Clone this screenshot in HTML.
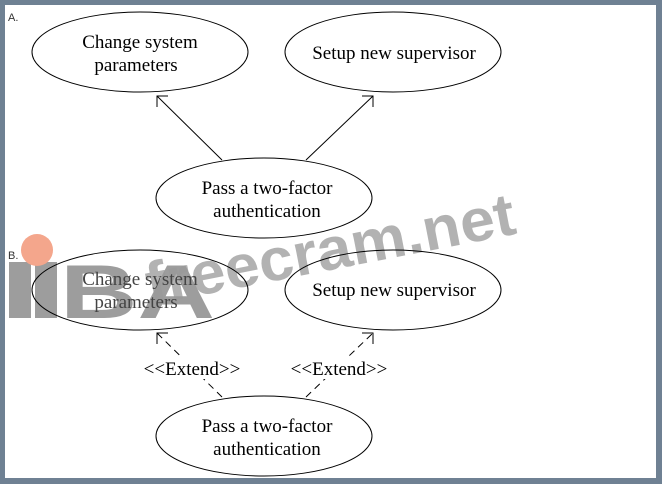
<!DOCTYPE html>
<html><head><meta charset="utf-8"><style>
html,body{margin:0;padding:0;background:#6f8193;}
svg{display:block}
</style></head><body>
<svg width="662" height="484" viewBox="0 0 662 484" xmlns="http://www.w3.org/2000/svg">
<rect x="0" y="0" width="662" height="484" fill="#6f8193"/>
<rect x="5" y="5" width="651" height="473" fill="#ffffff"/>
<g font-family="Liberation Sans, sans-serif" font-size="11" fill="#333">
<text x="8" y="21">A.</text>
<text x="8" y="259">B.</text>
</g>
<!-- watermark -->
<g fill="#8c8c8c" opacity="0.85">
<rect x="9" y="262" width="22" height="56"/>
<rect x="35" y="262" width="22" height="56"/>
<text x="60" y="318" font-family="Liberation Sans, sans-serif" font-weight="bold" font-size="76" textLength="155" lengthAdjust="spacingAndGlyphs">BA</text>
</g>
<circle cx="37" cy="250" r="16" fill="#f4a68c"/>
<text x="150" y="305" font-family="Liberation Sans, sans-serif" font-weight="bold" font-size="60" fill="#999" opacity="0.75" transform="rotate(-11 150 305)" textLength="375" lengthAdjust="spacingAndGlyphs">freecram.net</text>
<g fill="none" stroke="#000" stroke-width="1">
<ellipse cx="140" cy="52" rx="108" ry="40"/>
<ellipse cx="393" cy="52" rx="108" ry="40"/>
<ellipse cx="264" cy="198" rx="108" ry="40"/>
<ellipse cx="140" cy="290" rx="108" ry="40"/>
<ellipse cx="393" cy="290" rx="108" ry="40"/>
<ellipse cx="264" cy="436" rx="108" ry="40"/>
<line x1="222" y1="160" x2="157" y2="96"/>
<polyline points="157,107 157,96 168,96"/>
<line x1="306" y1="160" x2="373" y2="96"/>
<polyline points="362,96 373,96 373,107"/>
<line x1="222" y1="397" x2="157" y2="333" stroke-dasharray="7,5"/>
<polyline points="157,344 157,333 168,333"/>
<line x1="306" y1="397" x2="373" y2="333" stroke-dasharray="7,5"/>
<polyline points="362,333 373,333 373,344"/>
</g>
<g font-family="Liberation Serif, serif" font-size="19" fill="#000" text-anchor="middle">
<text x="140" y="48">Change system</text>
<text x="136" y="71">parameters</text>
<text x="394" y="59">Setup new supervisor</text>
<text x="267" y="194">Pass a two-factor</text>
<text x="267" y="217">authentication</text>
<text x="140" y="285" fill="#444">Change system</text>
<text x="136" y="308" fill="#444">parameters</text>
<text x="394" y="296">Setup new supervisor</text>
<text x="267" y="432">Pass a two-factor</text>
<text x="267" y="455">authentication</text>
<rect x="138" y="357" width="108" height="22" fill="#fff" stroke="none"/>
<rect x="285" y="357" width="108" height="22" fill="#fff" stroke="none"/>
<text x="192" y="375">&lt;&lt;Extend&gt;&gt;</text>
<text x="339" y="375">&lt;&lt;Extend&gt;&gt;</text>
</g>
</svg>
</body></html>
